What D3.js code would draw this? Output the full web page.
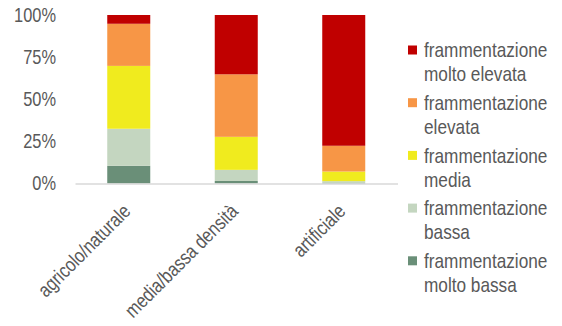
<!DOCTYPE html>
<html lang="it">
<head>
<meta charset="UTF-8">
<title>Frammentazione</title>
<script src="https://d3js.org/d3.v7.min.js"></script>
<style>
  body { margin: 0; background: #fff; }
  svg text { font-family: "Liberation Sans", Arial, sans-serif; fill: #595959; }
</style>
</head>
<body>
<svg id="chart" width="562" height="326"></svg>
<script>
// categories and series (percent shares)
const categories = ["agricolo/naturale", "media/bassa densità", "artificiale"];
const seriesNames = ["frammentazione molto bassa", "frammentazione bassa", "frammentazione media",
                     "frammentazione elevata", "frammentazione molto elevata"];
const moltoBassa = [10.5, 1.5, 0.3];
const bassa = [22.0, 6.6, 1.1];
const media = [37.3, 19.6, 5.7];
const elevata = [25.0, 37.1, 15.3];
const moltoElevata = [5.2, 35.2, 77.6];
const yTicks = [0, 25, 50, 75, 100];
const colors = ["#6A8F78", "#C4D6C0", "#F0EB1E", "#F79646", "#C00000"];

// no narrow font installed, so squeeze the text horizontally
const narrow = 0.82;

const values = [moltoBassa, bassa, media, elevata, moltoElevata];
const rows = categories.map((c, i) => {
  const r = { cat: c };
  seriesNames.forEach((s, j) => r[s] = values[j][i]);
  return r;
});

const svg = d3.select("#chart");
const x = d3.scaleBand().domain(categories).range([75, 397.5]).paddingInner(0.6).paddingOuter(0.3);
const y = d3.scaleLinear().domain([0, 100]).range([183.5, 15]);

const layers = d3.stack().keys(seriesNames)(rows);

svg.selectAll("g.layer")
  .data(layers)
  .enter().append("g")
  .attr("class", "layer")
  .attr("fill", (d, i) => colors[i])
  .selectAll("rect")
  .data(d => d)
  .enter().append("rect")
  .attr("x", d => x(d.data.cat))
  .attr("width", x.bandwidth())
  .attr("y", d => y(d[1]))
  .attr("height", d => y(d[0]) - y(d[1]));

// y axis labels
const yAxis = svg.append("g")
  .attr("transform", "translate(56,0)")
  .call(d3.axisLeft(y).tickValues(yTicks).tickFormat(d => d + "%").tickSize(0).tickPadding(0));
yAxis.select(".domain").remove();
yAxis.selectAll("text")
  .attr("font-size", 20)
  .attr("font-family", null)
  .attr("x", 0)
  .attr("transform", `scale(${narrow},1)`);

// x axis
const xAxis = svg.append("g")
  .attr("transform", "translate(0,183.5)")
  .call(d3.axisBottom(x).tickSize(0).tickPadding(0));
xAxis.select(".domain").attr("stroke", "#D9D9D9").attr("stroke-width", 1.5);
xAxis.selectAll("text")
  .attr("font-size", 20)
  .attr("font-family", null)
  .attr("text-anchor", "end")
  .attr("dy", null)
  .attr("y", 0)
  .attr("transform", `translate(3,29) rotate(-45) scale(${narrow},1)`);

// legend, top entry first
const legendItems = seriesNames.map((s, i) => ({ name: s, color: colors[i] })).reverse();
const legend = svg.append("g").attr("transform", "translate(408,50)");
const item = legend.selectAll("g")
  .data(legendItems)
  .enter().append("g")
  .attr("transform", (d, i) => `translate(0,${i * 52.7})`);
item.append("rect")
  .attr("x", 0).attr("y", -4.5).attr("width", 9).attr("height", 9)
  .attr("fill", d => d.color);
item.append("text")
  .attr("font-size", 21)
  .attr("transform", `translate(16,0) scale(${narrow},1)`)
  .selectAll("tspan")
  .data(d => ["frammentazione", d.name.replace("frammentazione ", "")])
  .enter().append("tspan")
  .attr("x", 0)
  .attr("y", (d, i) => i * 24)
  .attr("dy", "0.35em")
  .text(d => d);
</script>
</body>
</html>
